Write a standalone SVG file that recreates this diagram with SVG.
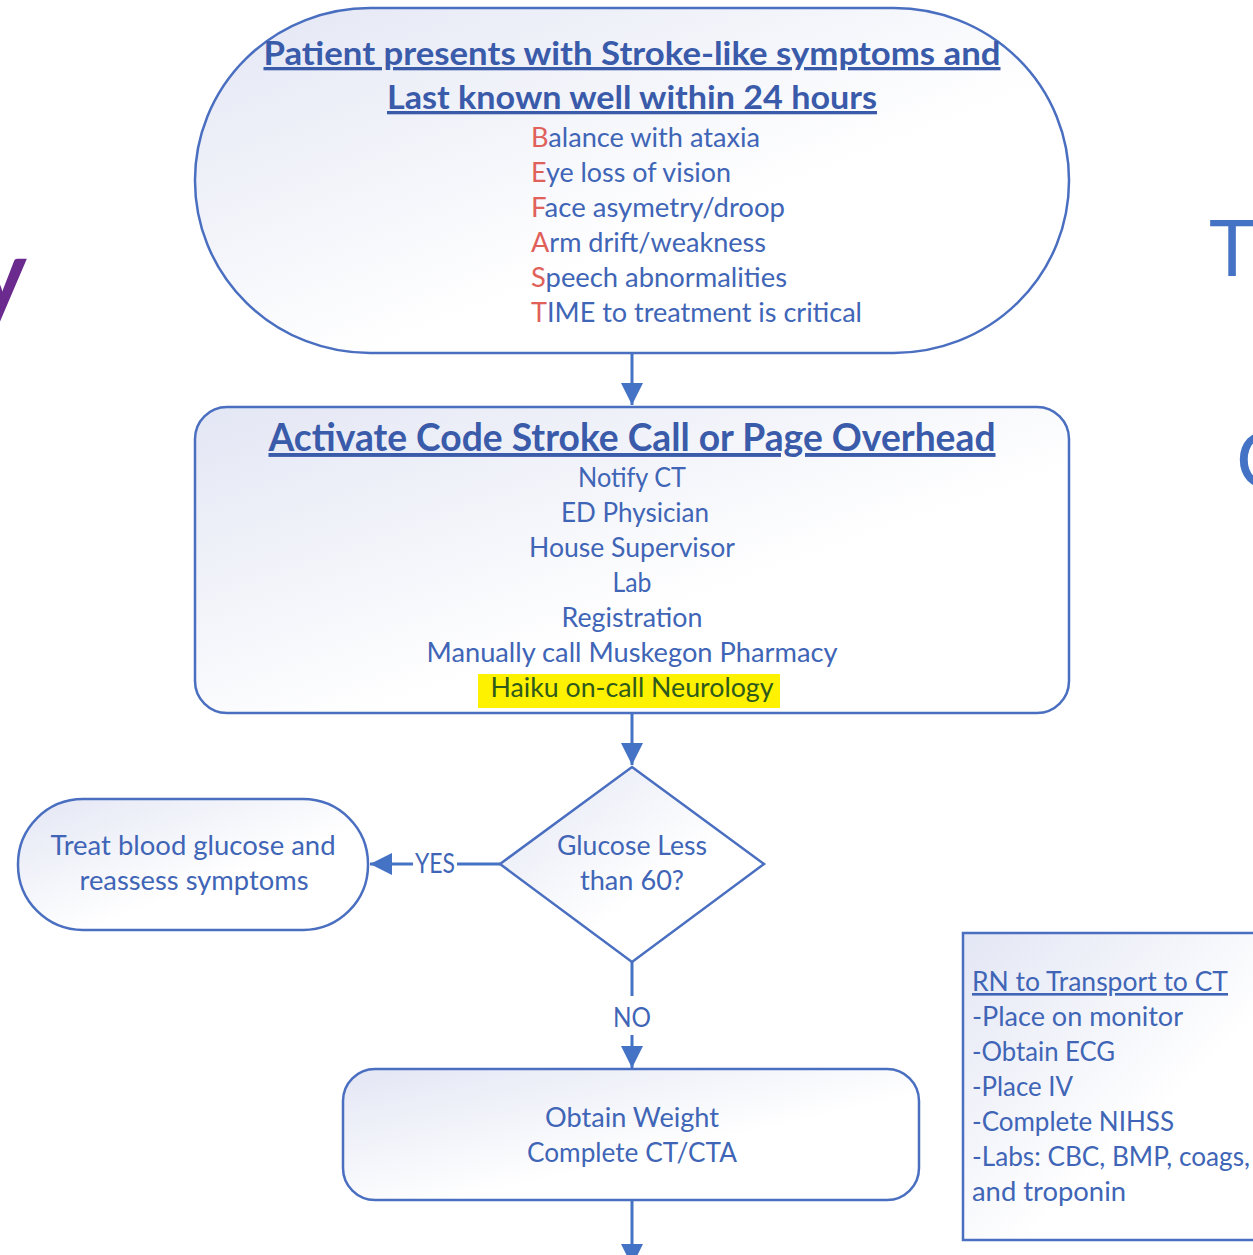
<svg xmlns="http://www.w3.org/2000/svg" width="1253" height="1255" viewBox="0 0 1253 1255">
<defs>
<linearGradient id="fillg" x1="0" y1="0" x2="1" y2="1">
<stop offset="0" stop-color="#E3E6F4"/>
<stop offset="0.6" stop-color="#FFFFFF"/>
<stop offset="1" stop-color="#FFFFFF"/>
</linearGradient>
<marker id="arr" viewBox="0 0 10 10" refX="10" refY="5" markerWidth="22" markerHeight="22" markerUnits="userSpaceOnUse" orient="auto">
<path d="M0,0 L10,5 L0,10 z" fill="#4472C4"/>
</marker>
<style>
.shape{fill:url(#fillg);stroke:#4A6FC0;stroke-width:2.5}
.t{font-family:Lato,"Open Sans","Liberation Sans",sans-serif;font-size:26px;fill:#4065B6}
.c{text-anchor:middle}
.h{font-weight:bold;text-decoration:underline;fill:#3A5AAA}
.h1{font-size:33px}
.h2{font-size:39px}
.r{fill:#E0605A}
.conn{stroke:#4472C4;stroke-width:3;fill:none}
</style>
</defs>

<text x="27" y="308" font-family="Lato,sans-serif" font-size="96" font-weight="bold" fill="#6A2A8E" text-anchor="end">y</text>
<text x="1209" y="276" font-family="Lato,sans-serif" font-size="78" fill="#4472C4">T</text>
<text x="1236" y="488" font-family="Lato,sans-serif" font-size="80" fill="#4472C4">C</text>

<g id="connectors">
<line class="conn" x1="632" y1="354" x2="632" y2="405" marker-end="url(#arr)"/>
<line class="conn" x1="632" y1="714" x2="632" y2="765" marker-end="url(#arr)"/>
<line class="conn" x1="500" y1="864" x2="457" y2="864"/>
<line class="conn" x1="413" y1="864" x2="370" y2="864" marker-end="url(#arr)"/>
<text class="t" x="435" y="873" text-anchor="middle" textLength="40" lengthAdjust="spacingAndGlyphs">YES</text>
<line class="conn" x1="632" y1="962" x2="632" y2="996"/>
<text class="t" x="632" y="1027" text-anchor="middle" textLength="38" lengthAdjust="spacingAndGlyphs">NO</text>
<line class="conn" x1="632" y1="1035" x2="632" y2="1068" marker-end="url(#arr)"/>
<line class="conn" x1="632" y1="1201" x2="632" y2="1266" marker-end="url(#arr)"/>
</g>

<g id="node-start">
<rect class="shape" x="195" y="8" width="874" height="345" rx="175" ry="172"/>
<text class="t h h1 c" x="632" y="65" textLength="737" lengthAdjust="spacingAndGlyphs">Patient presents  with Stroke-like symptoms and</text>
<text class="t h h1 c" x="632" y="109" textLength="490" lengthAdjust="spacingAndGlyphs">Last known well within 24 hours</text>
<text class="t" x="531" y="147" textLength="229" lengthAdjust="spacingAndGlyphs"><tspan class="r">B</tspan>alance with ataxia</text>
<text class="t" x="531" y="182" textLength="200" lengthAdjust="spacingAndGlyphs"><tspan class="r">E</tspan>ye loss of vision</text>
<text class="t" x="531" y="217" textLength="254" lengthAdjust="spacingAndGlyphs"><tspan class="r">F</tspan>ace asymetry/droop</text>
<text class="t" x="531" y="252" textLength="235" lengthAdjust="spacingAndGlyphs"><tspan class="r">A</tspan>rm drift/weakness</text>
<text class="t" x="531" y="287" textLength="256" lengthAdjust="spacingAndGlyphs"><tspan class="r">S</tspan>peech abnormalities</text>
<text class="t" x="531" y="322" textLength="331" lengthAdjust="spacingAndGlyphs"><tspan class="r">T</tspan>IME to treatment is critical</text>
</g>

<g id="node-activate">
<rect class="shape" x="195" y="407" width="874" height="306" rx="32" ry="32"/>
<text class="t h h2 c" x="632" y="451" textLength="727" lengthAdjust="spacingAndGlyphs">Activate Code Stroke Call or Page Overhead</text>
<text class="t c" x="632" y="487" textLength="108" lengthAdjust="spacingAndGlyphs">Notify CT</text>
<text class="t c" x="635" y="522" textLength="148" lengthAdjust="spacingAndGlyphs">ED Physician</text>
<text class="t c" x="632" y="557" textLength="206" lengthAdjust="spacingAndGlyphs">House Supervisor</text>
<text class="t c" x="632" y="592" textLength="39" lengthAdjust="spacingAndGlyphs">Lab</text>
<text class="t c" x="632" y="627" textLength="141" lengthAdjust="spacingAndGlyphs">Registration</text>
<text class="t c" x="632" y="662" textLength="411" lengthAdjust="spacingAndGlyphs">Manually call Muskegon Pharmacy</text>
<rect x="478" y="674" width="302" height="34" fill="#FFF200"/>
<text class="t c" x="632" y="697" textLength="283" lengthAdjust="spacingAndGlyphs" style="fill:#2E5A1C">Haiku on-call Neurology</text>
</g>

<g id="node-glucose">
<polygon class="shape" points="632,767 764,864 632,962 500,864"/>
<text class="t c" x="632" y="855" textLength="150" lengthAdjust="spacingAndGlyphs">Glucose Less</text>
<text class="t c" x="632" y="890" textLength="104" lengthAdjust="spacingAndGlyphs">than 60?</text>
</g>

<g id="node-treat">
<rect class="shape" x="18" y="799" width="350" height="131" rx="65" ry="65"/>
<text class="t c" x="193" y="855" textLength="285" lengthAdjust="spacingAndGlyphs">Treat blood glucose and</text>
<text class="t c" x="194" y="890" textLength="229" lengthAdjust="spacingAndGlyphs">reassess symptoms</text>
</g>

<g id="node-weight">
<rect class="shape" x="343" y="1069" width="576" height="131" rx="32" ry="32"/>
<text class="t c" x="632" y="1127" textLength="174" lengthAdjust="spacingAndGlyphs">Obtain Weight</text>
<text class="t c" x="632" y="1162" textLength="210" lengthAdjust="spacingAndGlyphs">Complete CT/CTA</text>
</g>

<g id="node-rn">
<rect class="shape" x="963" y="933" width="320" height="307" stroke-width="2"/>
<text class="t" x="972" y="991" textLength="256" lengthAdjust="spacingAndGlyphs" style="text-decoration:underline">RN to Transport to CT</text>
<text class="t" x="972" y="1026" textLength="211" lengthAdjust="spacingAndGlyphs">-Place on monitor</text>
<text class="t" x="972" y="1061" textLength="143" lengthAdjust="spacingAndGlyphs">-Obtain ECG</text>
<text class="t" x="972" y="1096" textLength="101" lengthAdjust="spacingAndGlyphs">-Place IV</text>
<text class="t" x="972" y="1131" textLength="202" lengthAdjust="spacingAndGlyphs">-Complete NIHSS</text>
<text class="t" x="972" y="1166" textLength="278" lengthAdjust="spacingAndGlyphs">-Labs: CBC, BMP, coags,</text>
<text class="t" x="972" y="1201" textLength="154" lengthAdjust="spacingAndGlyphs">and troponin</text>
</g>
</svg>
